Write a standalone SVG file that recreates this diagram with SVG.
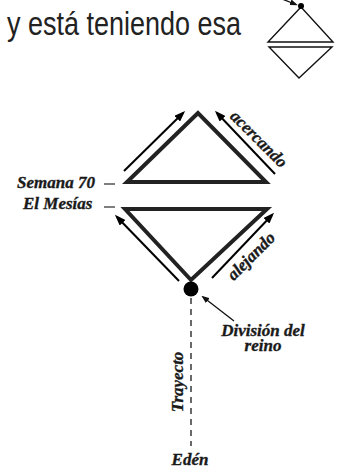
<svg xmlns="http://www.w3.org/2000/svg" width="341" height="475" viewBox="0 0 341 475">
<defs>
<style>
.lbl{font-family:"Liberation Serif","Times New Roman",serif;font-weight:bold;font-style:italic;font-size:17px;fill:#1a1a1a;stroke:#1a1a1a;stroke-width:0.35}
.tri{fill:none;stroke:#222;stroke-width:4;stroke-linejoin:miter;stroke-miterlimit:10}
.arr{stroke:#000;stroke-width:2;fill:none}
.thin{stroke:#111;stroke-width:1.3;fill:none}
.icon{fill:none;stroke:#111;stroke-width:1.4}
.tick{stroke:#555;stroke-width:1.5}
</style>
<marker id="ah" markerUnits="userSpaceOnUse" markerWidth="11" markerHeight="8" refX="8" refY="4" orient="auto">
<path d="M0,0 L11,4 L0,8 z" fill="#000"/>
</marker>
<marker id="ahs" markerUnits="userSpaceOnUse" markerWidth="8" markerHeight="6" refX="6" refY="3" orient="auto">
<path d="M0,0 L8,3 L0,6 z" fill="#111"/>
</marker>
</defs>
<rect width="341" height="475" fill="#fff"/>

<g id="caption">
<text x="7" y="35" font-family="Liberation Sans, Arial, sans-serif" font-size="34" fill="#222" textLength="234" lengthAdjust="spacingAndGlyphs">y está teniendo esa</text>
</g>

<g id="icon">
<line class="thin" x1="282" y1="-1" x2="296" y2="4.5" marker-end="url(#ahs)"/>
<polygon class="icon" points="301,7 268,42 333,42"/>
<polygon class="icon" points="269,47 332,47 299,78"/>
<circle cx="301" cy="6" r="3" fill="#000"/>
</g>

<g id="upper-triangle">
<polygon class="tri" points="198,113 127,182 266,182"/>
</g>
<g id="lower-triangle">
<polygon class="tri" points="125,209 267,209 191,280"/>
</g>
<g id="division-dot">
<circle cx="191" cy="289" r="7.5" fill="#000"/>
</g>

<g id="connectors">
<line class="arr" x1="124" y1="171" x2="183" y2="113" marker-end="url(#ah)"/>
<line class="arr" x1="275" y1="174" x2="217" y2="113" marker-end="url(#ah)"/>
<line class="arr" x1="179" y1="281" x2="117" y2="217" marker-end="url(#ah)"/>
<line class="arr" x1="212" y1="278" x2="272" y2="215" marker-end="url(#ah)"/>
<line class="thin" x1="234" y1="321" x2="203" y2="297" marker-end="url(#ahs)"/>
<line x1="191" y1="298" x2="191" y2="446" stroke="#444" stroke-width="1.6" stroke-dasharray="6 5"/>
<line class="tick" x1="104" y1="184" x2="115" y2="184"/>
<line class="tick" x1="104" y1="207" x2="115" y2="207"/>
</g>

<g id="labels">
<text class="lbl" x="17" y="188">Semana 70</text>
<text class="lbl" x="23" y="209">El Mesías</text>
<text class="lbl" text-anchor="middle" transform="translate(255,143) rotate(45)">acercando</text>
<text class="lbl" text-anchor="middle" transform="translate(255,260) rotate(-45)">alejando</text>
<text class="lbl" text-anchor="middle" x="263" y="336">División del</text>
<text class="lbl" text-anchor="middle" x="263" y="351">reino</text>
<text class="lbl" text-anchor="middle" transform="translate(183,382) rotate(-90)">Trayecto</text>
<text class="lbl" text-anchor="middle" x="190" y="465">Edén</text>
</g>
</svg>
